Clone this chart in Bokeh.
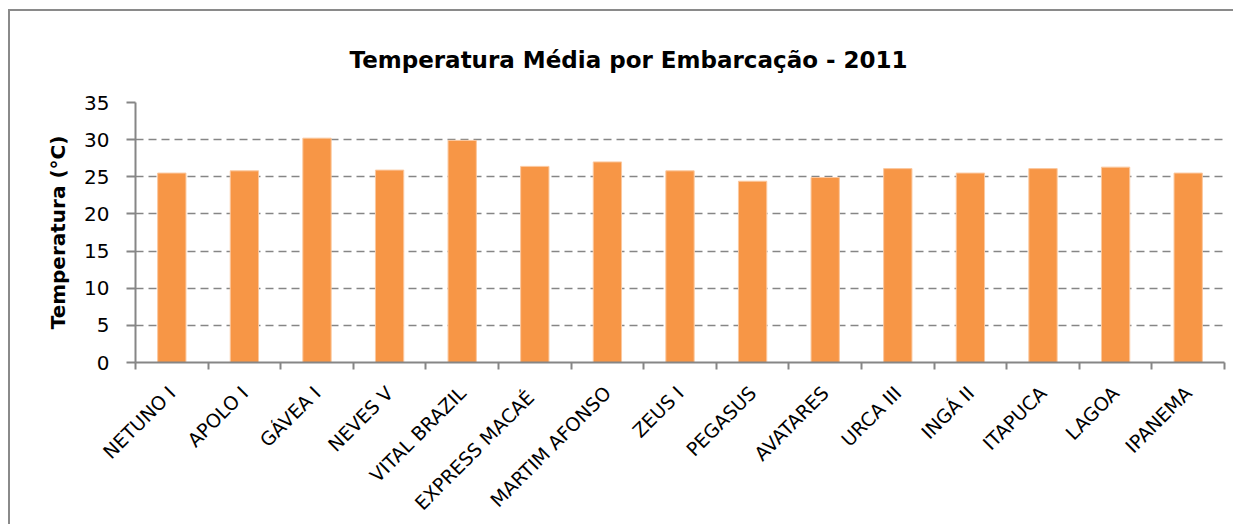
from bokeh.plotting import figure
from bokeh.models import Range1d, LinearAxis, FixedTicker
from bokeh.embed import file_html
from bokeh.resources import INLINE
import math

vessels = ["NETUNO I", "APOLO I", "GÁVEA I", "NEVES V", "VITAL BRAZIL", "EXPRESS  MACAÉ",
           "MARTIM AFONSO", "ZEUS I", "PEGASUS", "AVATARES", "URCA III", "INGÁ II",
           "ITAPUCA", "LAGOA", "IPANEMA"]
temps = [25.5, 25.8, 30.2, 25.9, 29.9, 26.4, 27.0, 25.8, 24.4, 24.9, 26.1, 25.5, 26.1, 26.3, 25.5]
y_ticks = [0, 5, 10, 15, 20, 25, 30, 35]

FONT = "DejaVu Sans"
GRAY = "#868686"
n = len(vessels)
centers = [i + 0.5 for i in range(n)]
boundaries = list(range(n + 1))

p = figure(width=1225, height=515, output_backend="svg", toolbar_location=None,
           x_range=Range1d(0, n), y_range=Range1d(0, 35),
           x_axis_location=None, y_axis_location="left",
           min_border_left=125, min_border_right=11, min_border_top=91, min_border_bottom=164)
p.styles = {"margin-left": "8px", "margin-top": "9px",
            "border-left": "2px solid #8a8a8a", "border-top": "2px solid #8a8a8a"}

p.title.text = "Temperatura Média por Embarcação - 2011"
p.title.align = "left"
p.title.text_font = FONT
p.title.text_font_size = "23px"
p.title.text_font_style = "bold"
p.title.text_color = "#000000"
p.title.offset = 214
p.title.standoff = 60

p.vbar(x=centers, top=temps, width=0.39, fill_color="#F79646", line_color="#FBC89F", line_width=1)

# y axis
ya = p.yaxis[0]
ya.ticker = FixedTicker(ticks=y_ticks)
ya.axis_label = "Temperatura (°C)"
ya.axis_label_text_font = FONT
ya.axis_label_text_font_style = "bold"
ya.axis_label_text_font_size = "20px"
ya.axis_label_text_color = "#000000"
ya.axis_label_standoff = 11
ya.major_label_text_font = FONT
ya.major_label_text_font_size = "20px"
ya.major_label_text_color = "#000000"
ya.major_label_standoff = 17
ya.axis_line_color = GRAY
ya.axis_line_width = 2
ya.major_tick_line_color = GRAY
ya.major_tick_line_width = 2
ya.major_tick_out = 9
ya.major_tick_in = 0
ya.minor_tick_line_color = None

p.ygrid.ticker = FixedTicker(ticks=y_ticks)
p.ygrid.grid_line_color = GRAY
p.ygrid.grid_line_width = 1.6
p.ygrid.grid_line_dash = "8 5"
p.xgrid.grid_line_color = None
p.outline_line_color = None

# category axis: labels at categories, ticks at category boundaries
cat_axis = LinearAxis(ticker=FixedTicker(ticks=centers, minor_ticks=boundaries),
                      major_label_overrides={c: v for c, v in zip(centers, vessels)},
                      axis_line_color=GRAY, axis_line_width=2,
                      major_tick_line_color=None, major_tick_out=8, major_tick_in=0,
                      minor_tick_line_color=GRAY, minor_tick_line_width=2,
                      minor_tick_out=7, minor_tick_in=0,
                      major_label_orientation=math.pi / 4,
                      major_label_text_font=FONT, major_label_text_font_size="19px",
                      major_label_text_color="#000000", major_label_standoff=19)
p.add_layout(cat_axis, "below")

open("out.html", "w").write(file_html(p, INLINE))
